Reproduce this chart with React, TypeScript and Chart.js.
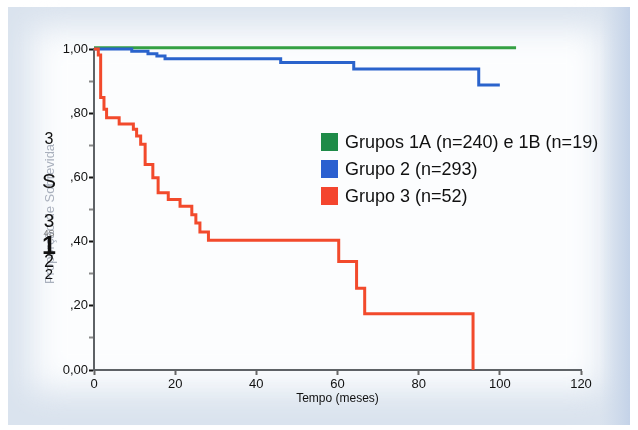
import React, { useEffect, useRef } from "react";
import { Chart, registerables } from "chart.js";

Chart.register(...registerables);

// ---- data ----
const seriesLabels = ["Grupos 1A (n=240) e 1B (n=19)", "Grupo 2 (n=293)", "Grupo 3 (n=52)"];
const seriesColors = ["#34a043", "#2a63cc", "#f24a2c"];
const legendColors = ["#1e8b48", "#2a5fd0", "#f4452e"];

const months1 = [0, 104];
const surv1 = [1.004, 1.004];

const months2 = [0, 9.3, 13.3, 15.5, 17.5, 46, 64, 94.8, 100];
const surv2 = [1, 0.993, 0.985, 0.978, 0.97, 0.958, 0.9375, 0.888, 0.888];

const months3 = [0, 1.06, 1.64, 2.46, 3.1, 6.2, 9.7, 10.5, 11.5, 12.6, 14.5, 15.8, 18.3, 21.2, 24.1, 25.1, 26.1, 28.2, 60.3, 64.7, 66.7, 93.4];
const surv3 = [1, 0.981, 0.849, 0.8125, 0.786, 0.766, 0.75, 0.729, 0.703, 0.64, 0.599, 0.552, 0.531, 0.51, 0.484, 0.458, 0.43, 0.404, 0.338, 0.255, 0.175, 0];

const xTicks = [0, 20, 40, 60, 80, 100, 120];
const yTickLabels: Record<string, string> = { "0": "0,00", "0.2": ",20", "0.4": ",40", "0.6": ",60", "0.8": ",80", "1": "1,00" };
const xTitle = "Tempo (meses)";
const yTitle = "Proporção de Sobrevida";
const scanGlyphs = ["3", "S", "3", "4S", "1", "2", "2"];

const toPoints = (xs: number[], ys: number[]) => xs.map((x, i) => ({ x, y: ys[i] }));

const FONT = "'Liberation Sans', Arial, sans-serif";

const bgPlugin = {
  id: "bgCard",
  beforeDraw(chart: any) {
    const ctx = chart.ctx;
    const w = chart.width, h = chart.height;
    ctx.save();
    ctx.fillStyle = "#ffffff";
    ctx.fillRect(0, 0, w, h);
    ctx.fillStyle = "#dae3ee";
    ctx.fillRect(8, 7, 622, 418);
    ctx.filter = "blur(16px)";
    ctx.fillStyle = "#fcfdfe";
    ctx.fillRect(32, 28, 570, 362);
    ctx.filter = "none";
    const g = ctx.createLinearGradient(600, 0, 630, 0);
    g.addColorStop(0, "rgba(200,214,234,0)");
    g.addColorStop(1, "rgba(190,206,230,0.8)");
    ctx.fillStyle = g;
    ctx.fillRect(600, 7, 30, 418);
    ctx.restore();
  },
};

const overlayPlugin = {
  id: "overlay",
  afterDraw(chart: any) {
    const ctx = chart.ctx;
    ctx.save();
    ctx.font = "18px " + FONT;
    ctx.textBaseline = "middle";
    ctx.textAlign = "left";
    seriesLabels.forEach((label, i) => {
      const cy = 142 + i * 27;
      ctx.fillStyle = legendColors[i];
      ctx.fillRect(321, cy - 9, 17, 18);
      ctx.fillStyle = "#111";
      ctx.fillText(label, 345, cy + 1);
    });
    ctx.save();
    ctx.translate(50, 214);
    ctx.rotate(-Math.PI / 2);
    ctx.textAlign = "center";
    ctx.fillStyle = "#a9b0bd";
    ctx.font = "13px " + FONT;
    ctx.fillText(yTitle, 0, 0);
    ctx.restore();
    const gy = [140, 182, 222, 234, 247, 262, 275];
    const gs = [16, 21, 19, 9, 25, 18, 15];
    ctx.textAlign = "center";
    scanGlyphs.forEach((t, i) => {
      ctx.font = (i === 4 ? "bold " : "") + gs[i] + "px " + FONT;
      ctx.fillStyle = i === 3 ? "#777" : "#111";
      ctx.fillText(t, 49, gy[i]);
    });
    ctx.restore();
  },
};

export default function App() {
  const ref = useRef<HTMLCanvasElement>(null);
  useEffect(() => {
    const prevMargin = document.body.style.margin;
    document.body.style.margin = "0";
    const common = { borderWidth: 3, pointRadius: 0, stepped: true as const, fill: false, clip: 6 };
    // dataset index 0 is drawn on top: red, then blue, then green underneath
    const chart = new Chart(ref.current as HTMLCanvasElement, {
      type: "line",
      data: {
        datasets: [
          { ...common, label: seriesLabels[2], data: toPoints(months3, surv3), borderColor: seriesColors[2] },
          { ...common, label: seriesLabels[1], data: toPoints(months2, surv2), borderColor: seriesColors[1] },
          { ...common, label: seriesLabels[0], data: toPoints(months1, surv1), borderColor: seriesColors[0] },
        ],
      },
      options: {
        animation: false,
        responsive: false,
        layout: { padding: { left: 0, top: 49, right: 57, bottom: 24 } },
        plugins: { legend: { display: false }, tooltip: { enabled: false } },
        scales: {
          x: {
            type: "linear",
            min: 0,
            max: 120,
            afterBuildTicks: (s: any) => { s.ticks = xTicks.map((v) => ({ value: v })); },
            afterFit: (s: any) => { s.height = 36; },
            grid: { drawOnChartArea: false, color: "#666", tickLength: 5, tickWidth: 2 },
            border: { color: "#5e6266", width: 2 },
            ticks: { color: "#111", font: { size: 13, family: FONT }, padding: 2, maxRotation: 0 },
            title: { display: true, text: xTitle, color: "#111", font: { size: 12, family: FONT }, padding: { top: 0, bottom: 0 } },
          },
          y: {
            min: 0,
            max: 1,
            afterBuildTicks: (s: any) => {
              const t = [];
              for (let i = 0; i <= 10; i++) t.push({ value: i / 10 });
              s.ticks = t;
            },
            afterFit: (s: any) => { s.width = 94; },
            grid: {
              drawOnChartArea: false,
              tickLength: 5,
              tickWidth: 2,
              color: (c: any) => (Math.round(c.tick.value * 10) % 2 === 0 ? "#111" : "#888"),
            },
            border: { color: "#5e6266", width: 2 },
            ticks: {
              color: "#111",
              padding: 1,
              font: { size: 13, family: FONT },
              callback: (v: any) => {
                const k = String(Math.round(Number(v) * 10) / 10);
                return yTickLabels[k] ?? "";
              },
            },
          },
        },
      },
      plugins: [bgPlugin, overlayPlugin],
    });
    return () => {
      chart.destroy();
      document.body.style.margin = prevMargin;
    };
  }, []);
  return (
    <div style={{ width: 638, height: 430 }}>
      <canvas ref={ref} width={638} height={430} style={{ display: "block", width: 638, height: 430 }} />
    </div>
  );
}
